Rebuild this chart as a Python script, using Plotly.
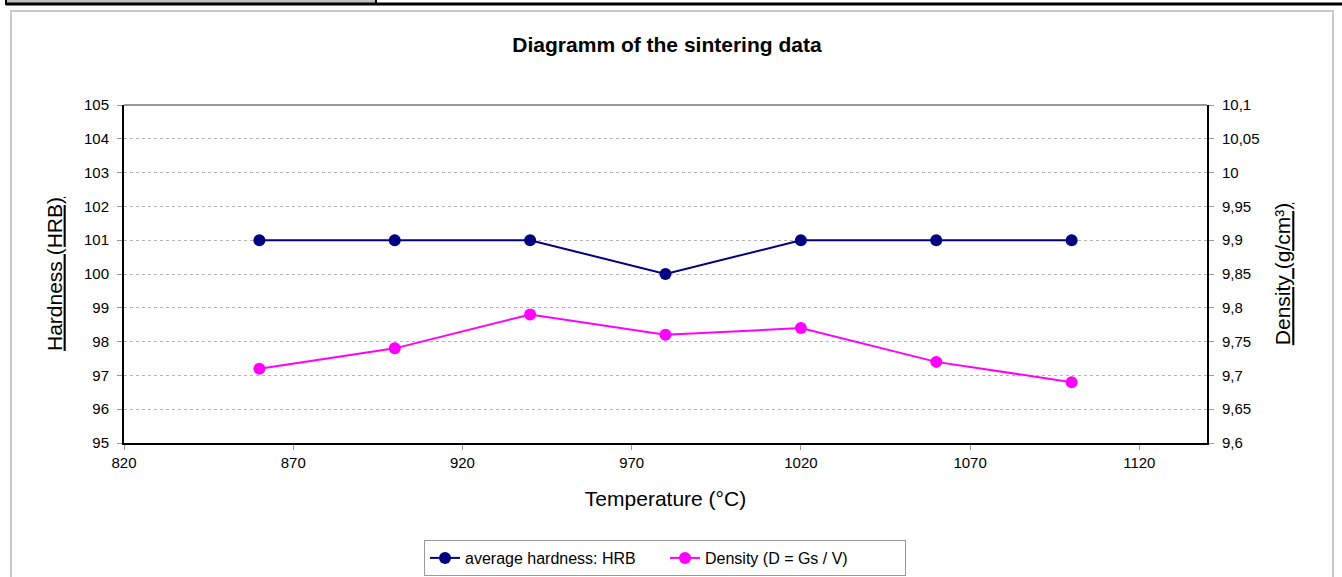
import plotly.graph_objects as go

temperature = [860, 900, 940, 980, 1020, 1060, 1100]
hardness = [101, 101, 101, 100, 101, 101, 101]
density = [9.71, 9.74, 9.79, 9.76, 9.77, 9.72, 9.69]

left_ticks = [95, 96, 97, 98, 99, 100, 101, 102, 103, 104, 105]
right_ticks = [9.6, 9.65, 9.7, 9.75, 9.8, 9.85, 9.9, 9.95, 10.0, 10.05, 10.1]
right_labels = ["9,6", "9,65", "9,7", "9,75", "9,8", "9,85", "9,9", "9,95", "10", "10,05", "10,1"]
x_ticks = [820, 870, 920, 970, 1020, 1070, 1120]

FONT = "Liberation Sans, Arial, sans-serif"

fig = go.Figure()
fig.add_trace(go.Scatter(
    x=temperature, y=hardness, name="average hardness: HRB",
    mode="lines+markers", line=dict(color="#000080", width=2),
    marker=dict(color="#000080", size=12), yaxis="y"))
fig.add_trace(go.Scatter(
    x=temperature, y=density, name="Density (D = Gs / V)",
    mode="lines+markers", line=dict(color="#FF00FF", width=2),
    marker=dict(color="#FF00FF", size=12), yaxis="y2"))

tick_common = dict(ticks="outside", ticklen=5, tickcolor="#999999",
                   tickfont=dict(family=FONT, size=15, color="black"))

fig.update_layout(
    width=1342, height=577,
    margin=dict(l=124, r=135, t=105, b=134, autoexpand=False),
    paper_bgcolor="white", plot_bgcolor="white",
    font=dict(family=FONT, color="black"),
    title=dict(text="<b>Diagramm of the sintering data</b>", x=0.497, xanchor="center",
               y=1 - 45 / 577, yanchor="middle",
               font=dict(family=FONT, size=21, color="black")),
    xaxis=dict(range=[820, 1140], tickvals=x_ticks, showgrid=False,
               showline=True, linecolor="black", linewidth=2, zeroline=False,
               title=dict(text="Temperature (°C)", font=dict(family=FONT, size=21), standoff=21),
               **tick_common),
    yaxis=dict(range=[95, 105], tickvals=left_ticks, showgrid=True,
               gridcolor="#b4b4b4", griddash="dot", gridwidth=1,
               showline=True, linecolor="black", linewidth=2, zeroline=False,
               ticklabelstandoff=5,
               title=dict(text="<u>Hardness (HRB)</u>", font=dict(family=FONT, size=21), standoff=16),
               **tick_common),
    yaxis2=dict(range=[9.6, 10.1], tickvals=right_ticks, ticktext=right_labels,
                overlaying="y", side="right", showgrid=False,
                showline=True, linecolor="black", linewidth=2, zeroline=False,
                ticklabelstandoff=5,
                title=dict(text="<u>Density (g/cm³)</u>", font=dict(family=FONT, size=21), standoff=17),
                **tick_common),
    legend=dict(orientation="h", x=(665 - 124) / 1083, xanchor="center", y=(443 - 540) / 338, yanchor="top",
                yref="paper",
                bordercolor="#999999", borderwidth=1, bgcolor="white",
                font=dict(family=FONT, size=16, color="black"),
                entrywidth=195, entrywidthmode="pixels"),
    showlegend=True,
)

# top gray frame line of plot area
fig.add_shape(type="line", xref="paper", yref="paper", x0=0, x1=1, y0=1, y1=1,
              line=dict(color="#999999", width=2))
# outer chart border
fig.add_shape(type="rect", xref="paper", yref="paper",
              x0=(11 - 124) / 1083, x1=(1333 - 124) / 1083,
              y0=(443 - 590) / 338, y1=(443 - 11) / 338,
              line=dict(color="#c8c8c8", width=2), layer="below")
# top page bar
fig.add_shape(type="rect", xref="paper", yref="paper",
              x0=(6 - 124) / 1083, x1=(376 - 124) / 1083,
              y0=(443 - 4) / 338, y1=(443 + 2) / 338,
              fillcolor="#c0c0c0", line=dict(color="black", width=2), layer="below")
fig.add_shape(type="line", xref="paper", yref="paper",
              x0=(6 - 124) / 1083, x1=(1342 - 124) / 1083,
              y0=(443 - 4) / 338, y1=(443 - 4) / 338,
              line=dict(color="black", width=3))

fig.write_html("out.html", config={"displayModeBar": False},
               post_script="document.body.style.margin='0';document.body.style.overflow='hidden';")
